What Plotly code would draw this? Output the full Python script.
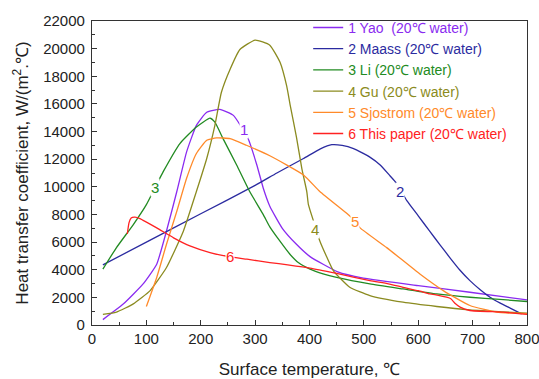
import plotly.graph_objects as go

# ---- data (surface temperature in degC, heat transfer coefficient W/(m2.degC)) ----
yao_T = [20, 58, 94, 119, 137, 156, 174, 192, 211, 235, 260, 287, 303, 315, 327, 350, 376, 401, 452, 499, 600, 695, 800]
yao_h = [390, 1530, 2970, 4400, 6800, 9660, 12530, 14450, 15400, 15600, 15170, 13490, 11600, 9900, 8600, 7000, 5840, 4950, 3850, 3400, 2850, 2370, 1820]

maass_T = [20, 100, 200, 300, 340, 389, 420, 441, 460, 481, 511, 530, 548, 560, 579, 600, 621, 640, 658, 676, 695, 714, 732, 750, 769, 790]
maass_h = [4350, 6000, 8050, 10100, 11000, 12050, 12750, 13050, 13000, 12770, 12150, 11580, 10800, 10260, 9000, 7900, 6790, 5800, 4880, 4000, 3210, 2550, 2010, 1600, 1220, 800]

li_T = [20, 45, 76, 100, 116, 131, 162, 192, 217, 226, 241, 266, 290, 315, 327, 345, 364, 380, 401, 425, 450, 511, 572, 634, 695, 750, 800]
li_h = [4045, 5600, 7270, 8710, 9950, 11100, 13150, 14330, 14970, 14680, 13490, 11580, 9660, 7990, 7100, 6100, 5120, 4500, 4045, 3700, 3440, 2970, 2610, 2250, 2010, 1850, 1700]

gu_T = [20, 45, 76, 107, 137, 168, 192, 211, 226, 238, 254, 272, 300, 327, 346, 358, 365, 376, 386, 395, 398, 410, 419, 432, 444, 474, 511, 572, 634, 695, 800]
gu_h = [770, 935, 1530, 2490, 4160, 6790, 9660, 12050, 14450, 16840, 18510, 19940, 20620, 20250, 18990, 17300, 15800, 13600, 11300, 9660, 8710, 7200, 6080, 4900, 3920, 2730, 2130, 1650, 1340, 1100, 860]

sjo_T = [100, 119, 137, 156, 174, 192, 211, 229, 254, 284, 327, 389, 419, 471, 484, 493, 542, 603, 646, 695, 744, 800]
sjo_h = [1340, 3440, 5840, 8230, 10620, 12410, 13370, 13540, 13490, 13010, 12250, 10860, 9660, 7990, 7510, 7030, 5600, 3690, 2490, 1410, 930, 820]

ours_T = [65, 68, 72, 79, 88, 119, 150, 180, 217, 254, 285, 327, 360, 401, 450, 511, 545, 572, 600, 621, 637, 652, 660, 668, 677, 695, 756, 800]
ours_h = [6600, 7390, 7750, 7800, 7700, 7030, 6310, 5720, 5240, 4930, 4760, 4520, 4350, 4120, 3730, 3210, 2980, 2730, 2480, 2250, 2150, 2010, 1900, 1550, 1290, 1050, 930, 770]

names = ["1 Yao  (20℃ water)", "2 Maass (20℃ water)", "3 Li (20℃ water)",
         "4 Gu (20℃ water)", "5 Sjostrom (20℃ water)", "6 This paper (20℃ water)"]
short_labels = ["1", "2", "3", "4", "5", "6"]
label_T = [279, 566, 116, 410, 484, 254]
label_h = [14180, 9660, 9950, 6940, 7510, 4930]
colors = ["#8A2BF0", "#2B2BA0", "#228B22", "#8B8B20", "#FF8A2A", "#FF2222"]

series_T = [yao_T, maass_T, li_T, gu_T, sjo_T, ours_T]
series_h = [yao_h, maass_h, li_h, gu_h, sjo_h, ours_h]

FONT = "Arial, 'Liberation Sans', sans-serif"

fig = go.Figure()
for T, h, nm, c in zip(series_T, series_h, names, colors):
    fig.add_trace(go.Scatter(
        x=T, y=h, mode="lines", line=dict(color=c, width=1.3, shape="spline", smoothing=0.45),
        name='<span style="color:%s">%s</span>' % (c, nm)))

for lab, lx, ly, c in zip(short_labels, label_T, label_h, colors):
    fig.add_annotation(x=lx, y=ly, text=lab, showarrow=False,
                       font=dict(family=FONT, size=15, color=c),
                       bgcolor="white", borderpad=0)

axis_common = dict(
    showline=True, linecolor="#333333", linewidth=1.2, mirror=True,
    ticks="inside", ticklen=5, tickwidth=1, tickcolor="#333333",
    showgrid=False, zeroline=False, automargin=False,
    ticklabeloverflow="allow",
    tickfont=dict(family=FONT, size=15, color="#222222"),
)

fig.update_xaxes(range=[0, 800], tickvals=[0, 100, 200, 300, 400, 500, 600, 700, 800],
                 minor=dict(ticks="inside", ticklen=3, dtick=50, tick0=0, tickcolor="#333333"),
                 title=dict(text="Surface temperature, ℃", font=dict(family=FONT, size=17, color="#222222"), standoff=23),
                 **axis_common)
fig.update_yaxes(range=[0, 22000], dtick=2000, tickformat="d",
                 ticklabelstandoff=3,
                 minor=dict(ticks="inside", ticklen=3, dtick=1000, tick0=0, tickcolor="#333333"),
                 title=dict(text="Heat transfer coefficient, W/(m<sup>2</sup>.℃)", font=dict(family=FONT, size=17, color="#222222"), standoff=10),
                 **axis_common)

fig.update_layout(
    width=539, height=379,
    margin=dict(l=92, r=12, t=18, b=54),
    paper_bgcolor="white", plot_bgcolor="white",
    showlegend=True,
    legend=dict(x=0.497, y=1.03, xanchor="left", yanchor="top",
                bgcolor="rgba(0,0,0,0)", borderwidth=0,
                font=dict(family=FONT, size=14), tracegroupgap=0,
                itemwidth=30),
)

fig.write_html("out.html")
